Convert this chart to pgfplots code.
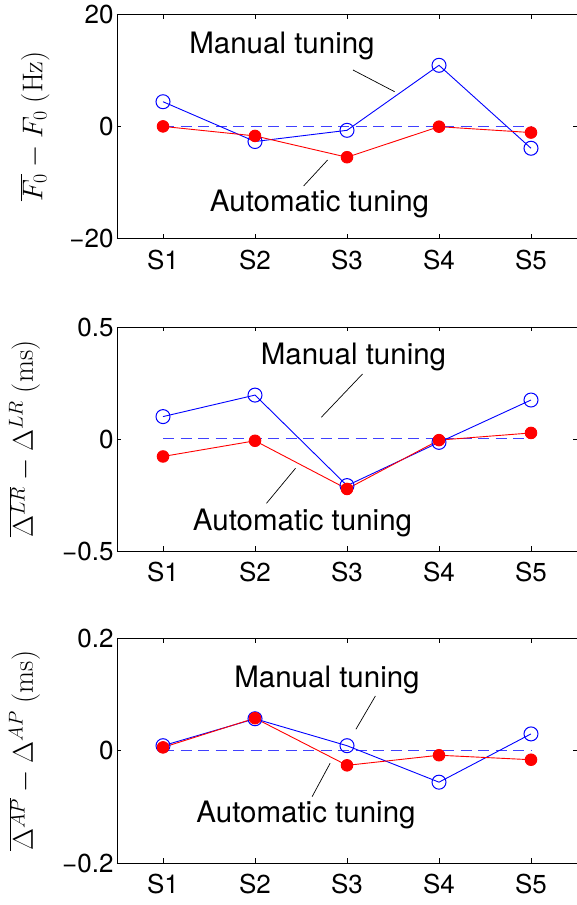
\RequirePackage{fix-cm}
\documentclass[border=0pt]{standalone}
\usepackage[no-math]{fontspec}
\setmainfont{TeX Gyre Heros}
\usepackage{pgfplots}
\pgfplotsset{compat=1.18}

\pgfplotsset{
 mystyle/.style={
  scale only axis, width=460pt,
  xmin=0.5, xmax=5.5, xtick={1,2,3,4,5}, xticklabels={S1,S2,S3,S4,S5},
  tick align=inside, major tick length=4.5pt,
  tick label style={font=\fontsize{26}{30}\selectfont},
  xticklabel style={yshift=-8pt},
  axis line style={line width=0.9pt, black},
  every tick/.style={black, line width=0.7pt},
  ylabel style={font=\fontsize{28.5}{32}\selectfont, anchor=center},
  clip=false,
 },
 manual/.style={blue, line width=0.9pt, mark=o, mark size=7pt, mark options={line width=1pt, solid}},
 autom/.style={red, line width=0.9pt, mark=*, mark size=5.8pt, mark options={fill=red, draw=red, solid}},
 zero/.style={blue!75, dash pattern=on 11pt off 6.5pt, line width=1pt, no marks},
}
\newcommand{\ann}[3]{\node[anchor=base, inner sep=0pt, font=\fontsize{29.5}{34}\selectfont] at (#1,#2) {#3};}

\begin{document}
\begin{tikzpicture}
\useasboundingbox (0,0) rectangle (577pt,905pt);

% Panel 1
\begin{axis}[mystyle, at={(117pt,666.5pt)}, anchor=south west, height=224.2pt,
  ymin=-20, ymax=20, ytick={-20,0,20}, yticklabels={−20,0,20},
  ylabel={$\overline{F_0} - F_0\ (\mathrm{Hz})$},
  ylabel style={at={(axis description cs:-0.178,0.5)}}]
\addplot[zero] coordinates {(1,0) (5,0)};
\addplot[manual] coordinates {(1,4.4) (2,-2.7) (3,-0.7) (4,10.9) (5,-3.9)};
\addplot[autom] coordinates {(1,0) (2,-1.7) (3,-5.5) (4,-0.05) (5,-1.1)};
\end{axis}

% Panel 2
\begin{axis}[mystyle, at={(117pt,354pt)}, anchor=south west, height=224pt,
  ymin=-0.5, ymax=0.5, ytick={-0.5,0,0.5}, yticklabels={−0.5,0,0.5},
  ylabel={$\overline{\Delta^{LR}} - \Delta^{LR}\ (\mathrm{ms})$},
  ylabel style={at={(axis description cs:-0.201,0.5)}}]
\addplot[zero] coordinates {(1,0) (5,0)};
\addplot[manual] coordinates {(1,0.100) (2,0.196) (3,-0.208) (4,-0.015) (5,0.174)};
\addplot[autom] coordinates {(1,-0.078) (2,-0.008) (3,-0.223) (4,-0.005) (5,0.027)};
\end{axis}

% Panel 3
\begin{axis}[mystyle, at={(117pt,42pt)}, anchor=south west, height=224.5pt,
  ymin=-0.2, ymax=0.2, ytick={-0.2,0,0.2}, yticklabels={−0.2,0,0.2},
  ylabel={$\overline{\Delta^{AP}} - \Delta^{AP}\ (\mathrm{ms})$},
  ylabel style={at={(axis description cs:-0.201,0.5)}}]
\addplot[zero] coordinates {(1,0) (5,0)};
\addplot[manual] coordinates {(1,0.009) (2,0.057) (3,0.009) (4,-0.056) (5,0.030)};
\addplot[autom] coordinates {(1,0.006) (2,0.058) (3,-0.026) (4,-0.008) (5,-0.016)};
\end{axis}

\begin{scope}[x=1pt, y=-1pt, shift={(0pt,905pt)}]
\ann{282}{53.5}{Manual tuning}
\draw[black, line width=0.7pt] (353,70) -- (394.6,91.7);
\ann{319.5}{211.7}{Automatic tuning}
\draw[black, line width=0.7pt] (327.6,160) -- (303.6,186);

\ann{353.5}{365}{Manual tuning}
\draw[black, line width=0.7pt] (362.5,374) -- (321.3,417.3);
\ann{302.5}{531}{Automatic tuning}
\draw[black, line width=0.7pt] (295.5,468.3) -- (266.5,503.3);

\ann{327}{687.3}{Manual tuning}
\draw[black, line width=0.7pt] (375.4,696) -- (355.9,729.3);
\ann{306}{822.7}{Automatic tuning}
\draw[black, line width=0.7pt] (330.1,763.3) -- (312.1,796.7);
\end{scope}
\end{tikzpicture}
\end{document}
